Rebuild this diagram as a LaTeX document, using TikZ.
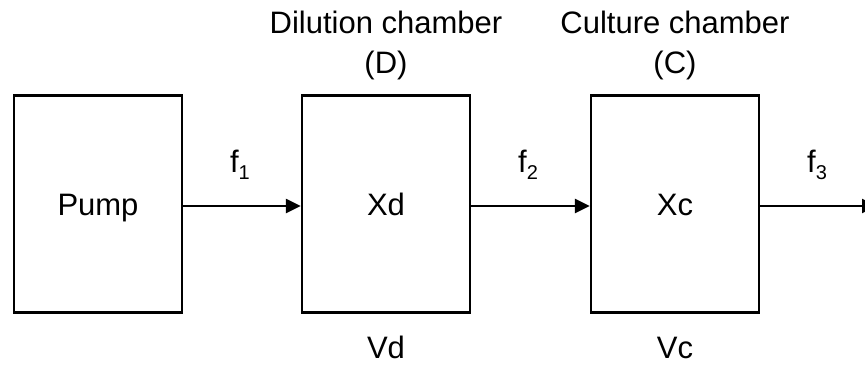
\documentclass[tikz,border=0pt]{standalone}
\usepackage{fontspec}
\setmainfont{Liberation Sans}
\usetikzlibrary{arrows.meta}

\tikzset{
  chamber/.style={draw=black, line width=2.3pt, minimum width=168pt, minimum height=217pt,
                  inner sep=0pt, text height=22pt, text depth=0pt,
                  font=\fontsize{31}{37}\selectfont},
  lbl/.style={anchor=base, inner sep=0pt, font=\fontsize{31}{37}\selectfont},
  flow/.style={line width=2.3pt, -{Triangle[length=15pt,width=14pt]}},
}
\newcommand{\flowlbl}[1]{f\raisebox{-7.5pt}{\fontsize{20}{20}\selectfont #1}}

\begin{document}
\begin{tikzpicture}[x=1pt,y=-1pt]
  \useasboundingbox (0,0) rectangle (865,367);
  \clip (0,0) rectangle (865,367);

  % the three boxes
  \node[chamber] (pump) at (98,204) {Pump};
  \node[chamber] (dil)  at (386,204) {Xd};
  \node[chamber] (cul)  at (675,204) {Xc};

  % chamber titles
  \node[lbl] (dtitle) at (386,33) {Dilution chamber};
  \node[lbl] (dtag)   at (386,73) {(D)};
  \node[lbl] (ctitle) at (675,33) {Culture chamber};
  \node[lbl] (ctag)   at (675,73) {(C)};

  % volumes
  \node[lbl] (vd) at (386,358) {Vd};
  \node[lbl] (vc) at (675,358) {Vc};

  % flows
  \coordinate (out) at (877,206);
  \draw[flow] (pump.east |- 0,206) -- (dil.west |- 0,206);
  \draw[flow] (dil.east |- 0,206) -- (cul.west |- 0,206);
  \draw[flow] (cul.east |- 0,206) -- (out);

  \node[lbl] (f1) at (240,172) {\flowlbl{1}};
  \node[lbl] (f2) at (528,172) {\flowlbl{2}};
  \node[lbl] (f3) at (817,172) {\flowlbl{3}};
\end{tikzpicture}
\end{document}
